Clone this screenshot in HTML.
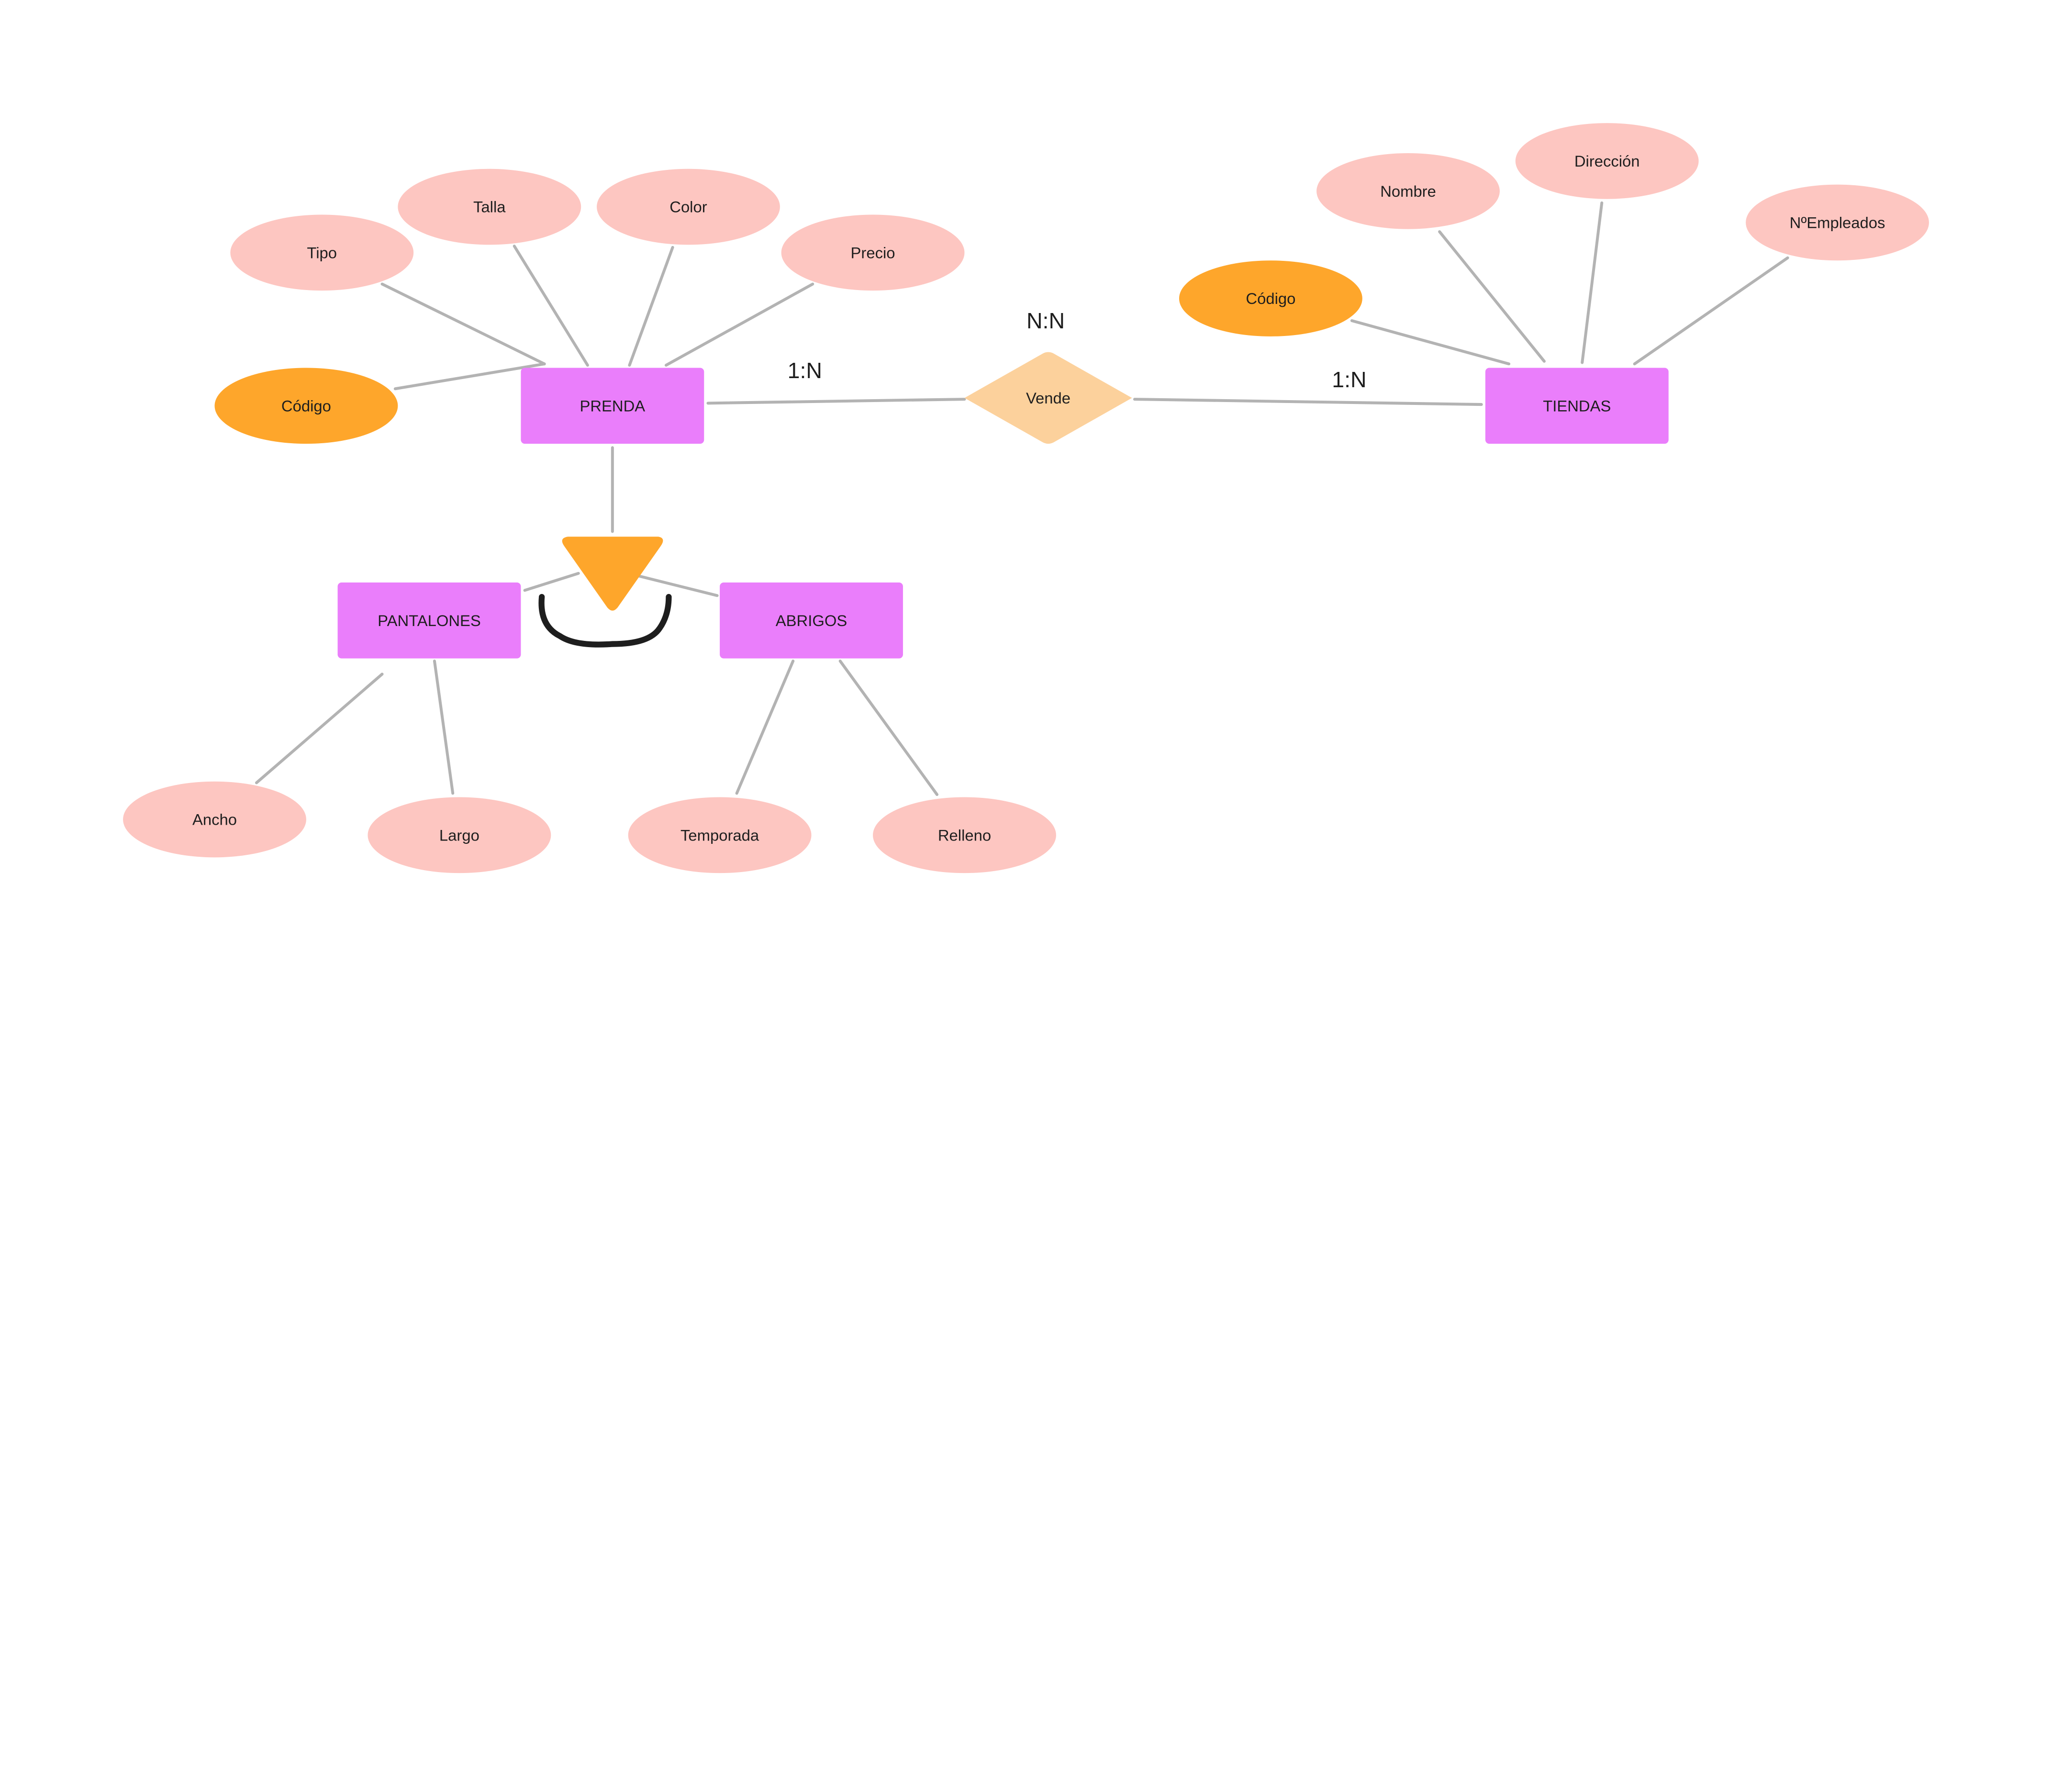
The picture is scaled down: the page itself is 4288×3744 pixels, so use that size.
<!DOCTYPE html>
<html><head><meta charset="utf-8"><style>
html,body{margin:0;padding:0;background:#fff;}
svg{display:block;}
text{font-family:"Liberation Sans",sans-serif;fill:#1e1e1e;text-anchor:middle;dominant-baseline:central;}
</style></head><body>
<svg width="4288" height="3744" viewBox="0 0 1568 1369" preserveAspectRatio="none" xmlns="http://www.w3.org/2000/svg">
<g stroke="#b3b3b3" stroke-width="2.2" stroke-linecap="round" fill="none">
<line x1="292" y1="217" x2="416" y2="278"/>
<line x1="393" y1="188" x2="449" y2="279"/>
<line x1="514" y1="189" x2="481" y2="279"/>
<line x1="621" y1="217" x2="509" y2="279"/>
<line x1="302" y1="297" x2="416" y2="278"/>
<line x1="541" y1="308" x2="737" y2="305"/>
<line x1="867" y1="305" x2="1132" y2="309"/>
<line x1="468" y1="342" x2="468" y2="406"/>
<line x1="401" y1="451" x2="442" y2="438"/>
<line x1="488" y1="440" x2="548" y2="455"/>
<line x1="1033" y1="245" x2="1153" y2="278"/>
<line x1="1100" y1="177" x2="1180" y2="276"/>
<line x1="1224" y1="155" x2="1209" y2="277"/>
<line x1="1366" y1="197" x2="1249" y2="278"/>
<line x1="292" y1="515" x2="196" y2="598"/>
<line x1="332" y1="505" x2="346" y2="606"/>
<line x1="606" y1="505" x2="563" y2="606"/>
<line x1="642" y1="505" x2="716" y2="607"/>
</g>
<g fill="#fdc6c1">
<ellipse cx="246" cy="193" rx="70" ry="29"/>
<ellipse cx="374" cy="158" rx="70" ry="29"/>
<ellipse cx="526" cy="158" rx="70" ry="29"/>
<ellipse cx="667" cy="193" rx="70" ry="29"/>
<ellipse cx="1076" cy="146" rx="70" ry="29"/>
<ellipse cx="1228" cy="123" rx="70" ry="29"/>
<ellipse cx="1404" cy="170" rx="70" ry="29"/>
<ellipse cx="164" cy="626" rx="70" ry="29"/>
<ellipse cx="351" cy="638" rx="70" ry="29"/>
<ellipse cx="550" cy="638" rx="70" ry="29"/>
<ellipse cx="737" cy="638" rx="70" ry="29"/>
</g>
<g fill="#fea62b">
<ellipse cx="234" cy="310" rx="70" ry="29"/>
<ellipse cx="971" cy="228" rx="70" ry="29"/>
<path d="M434 410 L503 410 Q509 411 505 417 L472 464 Q468 469 464 464 L431 417 Q427 411 434 410 Z"/>
</g>
<g fill="#ea7efb">
<rect x="398" y="281" width="140" height="58" rx="3"/>
<rect x="1135" y="281" width="140" height="58" rx="3"/>
<rect x="258" y="445" width="140" height="58" rx="3"/>
<rect x="550" y="445" width="140" height="58" rx="3"/>
</g>
<path d="M737 304 L797 270 Q801 268 805 270 L865 304 L805 338 Q801 340 797 338 Z" fill="#fcd19c"/>
<path d="M414 456 Q412 478 428 486 Q440 494 468 492 Q496 492 504 480 Q511 470 511 456" fill="none" stroke="#1e1e1e" stroke-width="4.5" stroke-linecap="round"/>
<g font-size="12">
<text x="246" y="193">Tipo</text>
<text x="374" y="158">Talla</text>
<text x="526" y="158">Color</text>
<text x="667" y="193">Precio</text>
<text x="234" y="310">Código</text>
<text x="468" y="310">PRENDA</text>
<text x="801" y="304">Vende</text>
<text x="1205" y="310">TIENDAS</text>
<text x="971" y="228">Código</text>
<text x="1076" y="146">Nombre</text>
<text x="1228" y="123">Dirección</text>
<text x="1404" y="170">NºEmpleados</text>
<text x="328" y="474">PANTALONES</text>
<text x="620" y="474">ABRIGOS</text>
<text x="164" y="626">Ancho</text>
<text x="351" y="638">Largo</text>
<text x="550" y="638">Temporada</text>
<text x="737" y="638">Relleno</text>
</g>
<g font-size="17">
<text x="615" y="283">1:N</text>
<text x="799" y="245">N:N</text>
<text x="1031" y="290">1:N</text>
</g>
</svg>
</body></html>
